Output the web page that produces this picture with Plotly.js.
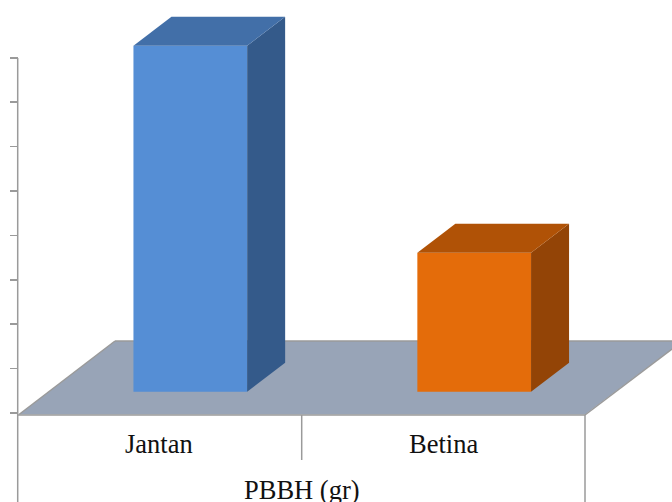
<!DOCTYPE html>
<html><head><meta charset="utf-8">
<script src="https://cdn.plot.ly/plotly-3.0.1.min.js"></script>
<style>html,body{margin:0;padding:0;background:#fff}</style></head>
<body><div id="chart" style="width:672px;height:502px"></div>
<script>
var categories = ['Jantan', 'Betina'];
var values = [7.79, 3.13];
var frontColors = ['#558ed5', '#e46c0a'];
var topColors = ['#426fa8', '#b05206'];
var sideColors = ['#345a8a', '#934406'];
var yTicks = [0, 1, 2, 3, 4, 5, 6, 7, 8];
var xAxisTitle = 'PBBH (gr)';

var W = 672, H = 502;
var yOf = function (px) { return (413 - px) / 44.4; };
var baseV = yOf(391.7);
var depthX = 38, depthY = 29 / 44.4;
var barW = 113.7;
var centers = [190.3, 474.2];
var labelCenters = [159.2, 443.5];
var traces = [];

function poly(xs, ys, color) {
  traces.push({type: 'scatter', mode: 'lines', x: xs, y: ys, fill: 'toself', fillcolor: color,
    line: {width: 0, color: color}, hoverinfo: 'skip', showlegend: false});
}

// side and top faces computed from the values
values.forEach(function (v, i) {
  var l = centers[i] - barW / 2, r = centers[i] + barW / 2;
  poly([r, r + depthX, r + depthX, r], [baseV, baseV + depthY, v + baseV + depthY, v + baseV], sideColors[i]);
  poly([l, l + depthX, r + depthX, r], [v + baseV, v + baseV + depthY, v + baseV + depthY, v + baseV], topColors[i]);
});
// front faces
traces.push({type: 'bar', x: centers, y: values, base: baseV, width: barW,
  marker: {color: frontColors, line: {width: 0}}, hoverinfo: 'skip', showlegend: false});

var frameLine = {width: 1.5, color: '#9a9a9a'};
function seg(x0, p0, x1, p1) {
  return {type: 'line', layer: 'below', xref: 'x', yref: 'y', x0: x0, x1: x1, y0: yOf(p0), y1: yOf(p1), line: frameLine};
}
var floorPath = 'M19,' + yOf(414.5) + ' L115,' + yOf(341) + ' L672,' + yOf(341) + ' L672,' + yOf(349) + ' L585,' + yOf(414.5) + ' Z';

var layout = {
  width: W, height: H, margin: {l: 0, r: 0, t: 0, b: 0},
  paper_bgcolor: '#fff', plot_bgcolor: '#fff', showlegend: false,
  font: {family: 'Liberation Serif', size: 26.5, color: '#111'},
  xaxis: {range: [0, W], showgrid: false, zeroline: false, showline: false, showticklabels: false, ticks: '', fixedrange: true},
  yaxis: {range: [yOf(H), yOf(0)], showgrid: false, zeroline: false, showline: false,
    tickmode: 'array', tickvals: yTicks, showticklabels: false,
    ticks: 'outside', ticklen: 8, tickwidth: 1.5, tickcolor: '#9a9a9a',
    anchor: 'free', position: 18 / W, fixedrange: true},
  shapes: [
    {type: 'path', layer: 'below', xref: 'x', yref: 'y', path: floorPath, fillcolor: '#98a4b7', line: {width: 0}},
    seg(115, 341, 672, 341),
    seg(17.7, 58, 17.7, 502),
    seg(18, 415, 585, 415),
    seg(301.7, 415, 301.7, 460),
    seg(585, 415, 585, 502),
    seg(585, 415, 672, 349),
    seg(19, 414.5, 115, 341)
  ],
  annotations: [
    {x: labelCenters[0], y: yOf(444), text: categories[0], showarrow: false, xref: 'x', yref: 'y'},
    {x: labelCenters[1], y: yOf(444), text: categories[1], showarrow: false, xref: 'x', yref: 'y'},
    {x: 301.5, y: yOf(490), text: xAxisTitle, showarrow: false, xref: 'x', yref: 'y'}
  ]
};
Plotly.newPlot('chart', traces, layout, {displayModeBar: false, staticPlot: true});
</script></body></html>
